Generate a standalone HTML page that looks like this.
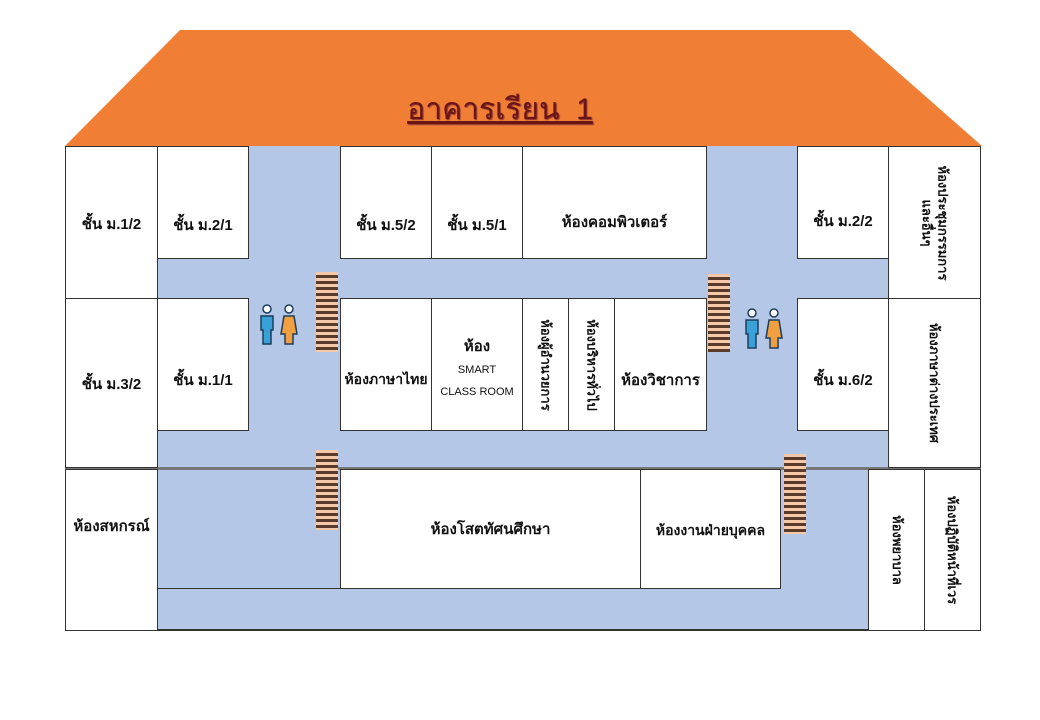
<!DOCTYPE html>
<html><head><meta charset="utf-8">
<style>
body{margin:0;width:1040px;height:720px;background:#fff;position:relative;overflow:hidden;font-family:"Liberation Sans","Noto Sans CJK SC",sans-serif;}
.a{position:absolute;box-sizing:border-box;}
.b{background:#B4C7E7;}
.w{background:#fff;border:1px solid #333;display:flex;align-items:center;justify-content:center;font-weight:bold;font-size:15px;color:#111;text-align:center;}
.t1{padding-top:44px;}
.t2{padding-top:30px;}
.st{background:repeating-linear-gradient(to bottom,#f6c9a8 0 3px,#5a3a2a 3px 6px);}
.v{transform:rotate(90deg);white-space:nowrap;font-size:13px;line-height:16px;}
</style></head><body>
<svg class="a" style="left:0;top:0" width="1040" height="720">
<polygon points="65,146 180,30 850,30 982,146" fill="#F07F35"/>
</svg>
<div class="a" style="left:370px;top:86px;width:260px;text-align:center;font-size:30px;color:#6a1515;text-decoration:underline;text-shadow:1px 1px 1px #8a3030;">อาคารเรียน&nbsp; 1</div>
<div class="a b" style="left:157px;top:146px;width:731px;height:322px"></div>
<div class="a b" style="left:157px;top:468px;width:711px;height:162px;border-bottom:1px solid #333"></div>
<div class="a" style="left:65px;top:146px;width:916px;height:485px;border:1px solid #333;border-top:none"></div>
<div class="a" style="left:65px;top:467px;width:916px;height:3px;background:#777"></div>
<!-- row1 -->
<div class="a w" style="left:65px;top:146px;width:93px;height:153px;padding-top:2px">ชั้น ม.1/2</div>
<div class="a w t1" style="left:157px;top:146px;width:92px;height:113px">ชั้น ม.2/1</div>
<div class="a w t1" style="left:340px;top:146px;width:92px;height:113px">ชั้น ม.5/2</div>
<div class="a w t1" style="left:431px;top:146px;width:92px;height:113px">ชั้น ม.5/1</div>
<div class="a w" style="left:522px;top:146px;width:185px;height:113px;padding-top:38px">ห้องคอมพิวเตอร์</div>
<div class="a w" style="left:797px;top:146px;width:92px;height:113px;padding-top:36px">ชั้น ม.2/2</div>
<div class="a w" style="left:888px;top:146px;width:93px;height:153px"><div class="v">ห้องประชุมกรรมการ<br>และอื่นๆ</div></div>
<!-- row2 -->
<div class="a w" style="left:65px;top:298px;width:93px;height:170px;padding-top:2px">ชั้น ม.3/2</div>
<div class="a w t2" style="left:157px;top:298px;width:92px;height:133px">ชั้น ม.1/1</div>
<div class="a w t2" style="left:340px;top:298px;width:92px;height:133px;font-size:14px">ห้องภาษาไทย</div>
<div class="a w" style="left:431px;top:298px;width:92px;height:133px;font-size:11px;line-height:22px;font-weight:normal;padding-top:10px"><div><b style="font-size:15px">ห้อง</b><br>SMART<br>CLASS ROOM</div></div>
<div class="a w" style="left:522px;top:298px;width:47px;height:133px"><div class="v">ห้องผู้อำนวยการ</div></div>
<div class="a w" style="left:568px;top:298px;width:47px;height:133px"><div class="v">ห้องบริหารทั่วไป</div></div>
<div class="a w t2" style="left:614px;top:298px;width:93px;height:133px">ห้องวิชาการ</div>
<div class="a w t2" style="left:797px;top:298px;width:92px;height:133px">ชั้น ม.6/2</div>
<div class="a w" style="left:888px;top:298px;width:93px;height:170px"><div class="v">ห้องภาษาต่างประเทศ</div></div>
<!-- row3 -->
<div class="a w" style="left:65px;top:469px;width:93px;height:162px;align-items:flex-start;padding-top:44px">ห้องสหกรณ์</div>
<div class="a w" style="left:340px;top:469px;width:301px;height:120px">ห้องโสตทัศนศึกษา</div>
<div class="a w" style="left:640px;top:469px;width:141px;height:120px;font-size:14px;padding-top:4px">ห้องงานฝ่ายบุคคล</div>
<div class="a w" style="left:868px;top:469px;width:57px;height:162px"><div class="v">ห้องพยาบาล</div></div>
<div class="a w" style="left:924px;top:469px;width:57px;height:162px"><div class="v">ห้องปฏิบัติหน้าที่เวร</div></div>
<div class="a" style="left:157px;top:588px;width:183px;height:1px;background:#333"></div>
<!-- stairs -->
<div class="a st" style="left:316px;top:272px;width:22px;height:80px"></div>
<div class="a st" style="left:708px;top:274px;width:22px;height:78px"></div>
<div class="a st" style="left:316px;top:450px;width:22px;height:80px"></div>
<div class="a st" style="left:784px;top:454px;width:22px;height:80px"></div>
<!-- toilets -->
<svg class="a" style="left:258px;top:304px" width="44" height="42"><g stroke="#1d3d5a" stroke-width="1.5">
<circle cx="9" cy="5" r="4" fill="#fff"/><path d="M3 12h12v14h-2v14h-8v-14h-2z" fill="#3aa0d8"/>
<circle cx="31" cy="5" r="4" fill="#fff"/><path d="M26 12h10l3 18h-4v10h-8v-10h-4z" fill="#f0a040"/></g></svg>
<svg class="a" style="left:743px;top:308px" width="44" height="42"><g stroke="#1d3d5a" stroke-width="1.5">
<circle cx="9" cy="5" r="4" fill="#fff"/><path d="M3 12h12v14h-2v14h-8v-14h-2z" fill="#3aa0d8"/>
<circle cx="31" cy="5" r="4" fill="#fff"/><path d="M26 12h10l3 18h-4v10h-8v-10h-4z" fill="#f0a040"/></g></svg>
</body></html>
